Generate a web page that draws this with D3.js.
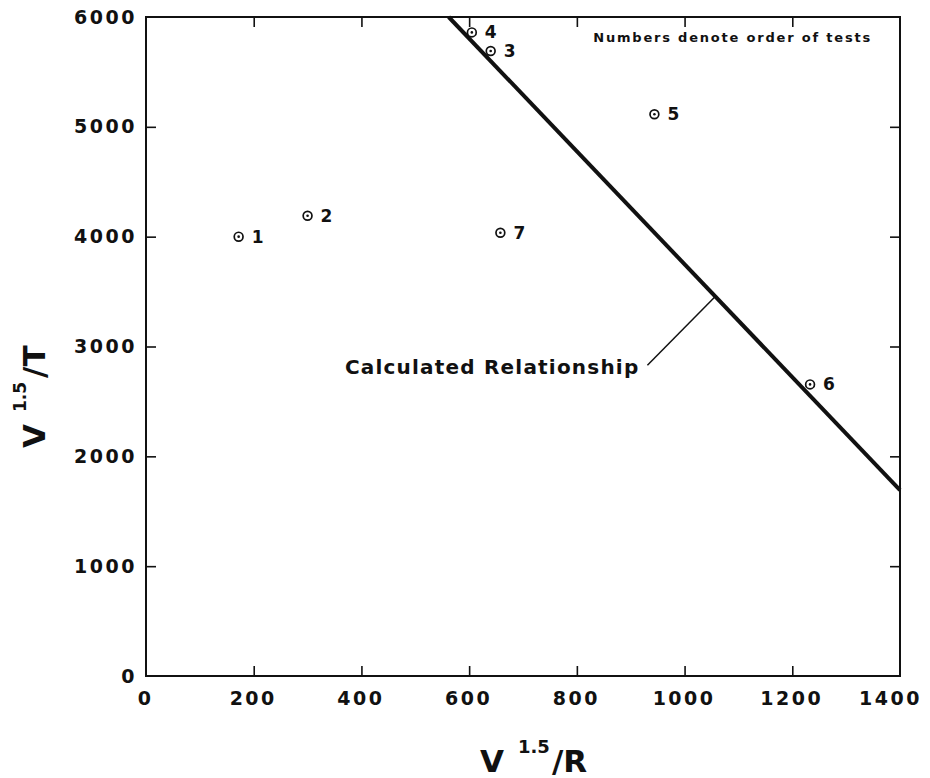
<!DOCTYPE html>
<html>
<head>
<meta charset="utf-8">
<script src="https://cdn.jsdelivr.net/npm/d3@7"></script>
<style>
  body { margin: 0; background: #fff; }
  svg text { font-family: "DejaVu Sans", sans-serif; font-weight: bold; fill: #111; }
  .tick text { font-size: 19px; letter-spacing: 2.5px; }
</style>
</head>
<body>
<div id="chart"></div>
<script>
// test points
var tests = ["1", "2", "3", "4", "5", "6", "7"];
var xVals = [172, 300, 640, 605, 944, 1233, 658];
var yVals = [4000, 4190, 5690, 5860, 5115, 2655, 4035];

// calculated relationship (straight line)
var calcX = [562, 1400];
var calcY = [6000, 1693];

// leader from the label to the line
var leaderX = [931, 1057];
var leaderY = [2830, 3456];

var xTicks = [0, 200, 400, 600, 800, 1000, 1200, 1400];
var yTicks = [0, 1000, 2000, 3000, 4000, 5000, 6000];

var margin = { top: 17, right: 30, bottom: 102, left: 146 },
    width = 930 - margin.left - margin.right,
    height = 778 - margin.top - margin.bottom;

var svg = d3.select("#chart").append("svg")
    .attr("width", width + margin.left + margin.right)
    .attr("height", height + margin.top + margin.bottom)
    .append("g")
    .attr("transform", "translate(" + margin.left + "," + margin.top + ")");

var x = d3.scaleLinear().domain([0, 1400]).range([0, width]);
var y = d3.scaleLinear().domain([0, 6000]).range([height, 0]);

var inner = xTicks.slice(1, -1);
var innerY = yTicks.slice(1, -1);
var fmt = d3.format("d");

// bottom axis, ticks pointing in
svg.append("g")
    .attr("transform", "translate(0," + height + ")")
    .call(d3.axisBottom(x).tickValues(xTicks).tickFormat(fmt).tickSizeInner(-10).tickSizeOuter(0).tickPadding(16))
    .call(g => g.select(".domain").remove())
    .call(g => g.selectAll(".tick line").filter(d => d == 0 || d == 1400).remove())
    .call(g => g.selectAll(".tick text").attr("dx", d => d == 1400 ? -10 : -1));

// left axis
svg.append("g")
    .call(d3.axisLeft(y).tickValues(yTicks).tickFormat(fmt).tickSizeInner(-10).tickSizeOuter(0).tickPadding(9))
    .call(g => g.select(".domain").remove())
    .call(g => g.selectAll(".tick line").filter(d => d == 0 || d == 6000).remove());

// top and right ticks, no labels
svg.append("g")
    .call(d3.axisTop(x).tickValues(inner).tickSizeInner(-10).tickSizeOuter(0).tickFormat(""))
    .call(g => g.select(".domain").remove());

svg.append("g")
    .attr("transform", "translate(" + width + ",0)")
    .call(d3.axisRight(y).tickValues(innerY).tickSizeInner(-10).tickSizeOuter(0).tickFormat(""))
    .call(g => g.select(".domain").remove());

svg.selectAll(".tick line").attr("stroke", "#111").attr("stroke-width", 1.6);

// frame
svg.append("rect")
    .attr("width", width)
    .attr("height", height)
    .attr("fill", "none")
    .attr("stroke", "#111")
    .attr("stroke-width", 2);

// calculated line
var line = d3.line().x(d => x(d[0])).y(d => y(d[1]));
svg.append("path")
    .datum(d3.zip(calcX, calcY))
    .attr("d", line)
    .attr("fill", "none")
    .attr("stroke", "#111")
    .attr("stroke-width", 4);

svg.append("path")
    .datum(d3.zip(leaderX, leaderY))
    .attr("d", line)
    .attr("fill", "none")
    .attr("stroke", "#111")
    .attr("stroke-width", 1.5);

svg.append("text")
    .attr("x", x(leaderX[0]) - 8)
    .attr("y", y(leaderY[0]) + 9)
    .attr("text-anchor", "end")
    .style("font-size", "20px")
    .style("letter-spacing", "1.2px")
    .text("Calculated Relationship");

svg.append("text")
    .attr("x", width - 28)
    .attr("y", 25)
    .attr("text-anchor", "end")
    .style("font-size", "13px")
    .style("letter-spacing", "1.8px")
    .text("Numbers denote order of tests");

// points
var pts = tests.map((t, i) => ({ test: t, x: xVals[i], y: yVals[i] }));

svg.selectAll(".pt")
    .data(pts)
    .enter().append("circle")
    .attr("class", "pt")
    .attr("cx", d => x(d.x))
    .attr("cy", d => y(d.y))
    .attr("r", 4.4)
    .attr("fill", "#fff")
    .attr("stroke", "#111")
    .attr("stroke-width", 1.7);

svg.selectAll(".dot")
    .data(pts)
    .enter().append("circle")
    .attr("class", "dot")
    .attr("cx", d => x(d.x))
    .attr("cy", d => y(d.y))
    .attr("r", 1.3)
    .attr("fill", "#111");

svg.selectAll(".num")
    .data(pts)
    .enter().append("text")
    .attr("class", "num")
    .attr("x", d => x(d.x) + 13)
    .attr("y", d => y(d.y) + 6)
    .style("font-size", "17px")
    .text(d => d.test);

// x axis title
var xt = svg.append("text")
    .attr("x", 334)
    .attr("y", height + 96)
    .style("font-size", "31px");
xt.append("tspan").text("V");
xt.append("tspan").attr("dx", 14).attr("dy", -19).style("font-size", "18px").text("1.5");
xt.append("tspan").attr("dx", 2).attr("dy", 19).text("/R");

// y axis title
var yt = svg.append("text")
    .attr("transform", "translate(" + (45 - margin.left) + "," + (448 - margin.top) + ") rotate(-90)")
    .style("font-size", "31px");
yt.append("tspan").text("V");
yt.append("tspan").attr("dx", 12).attr("dy", -19).style("font-size", "17px").text("1.5");
yt.append("tspan").attr("dx", 4).attr("dy", 19).text("/T");
</script>
</body>
</html>
